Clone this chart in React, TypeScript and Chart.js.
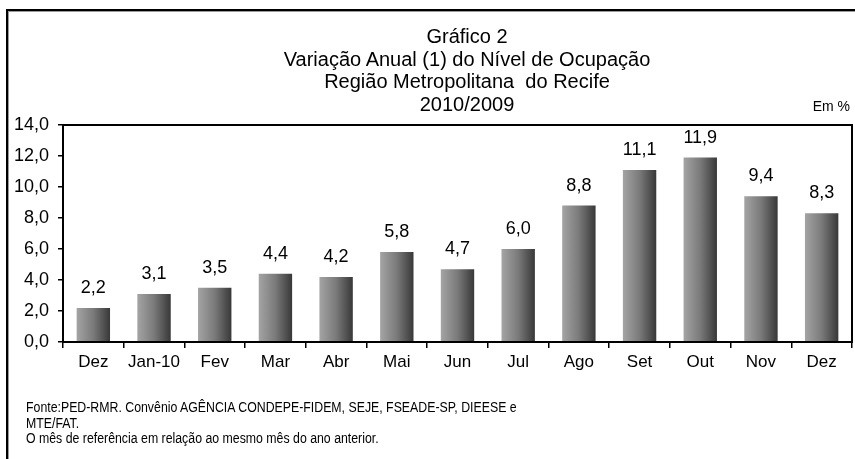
import React, { useEffect, useRef } from "react";
import { Chart, registerables } from "chart.js";

Chart.register(...registerables);

const categories = ["Dez", "Jan-10", "Fev", "Mar", "Abr", "Mai", "Jun", "Jul", "Ago", "Set", "Out", "Nov", "Dez"];
const values = [2.2, 3.1, 3.5, 4.4, 4.2, 5.8, 4.7, 6.0, 8.8, 11.1, 11.9, 9.4, 8.3];
const titleLines = [
  "Gráfico 2",
  "Variação Anual (1) do Nível de Ocupação",
  "Região Metropolitana  do Recife",
  "2010/2009",
];
const unitLabel = "Em %";
const footnotes = [
  "Fonte:PED-RMR. Convênio AGÊNCIA CONDEPE-FIDEM, SEJE, FSEADE-SP, DIEESE e",
  "MTE/FAT.",
  "O mês de referência em relação ao mesmo mês do ano anterior.",
];
const yMin = 0;
const yMax = 14;
const yStep = 2;

const FONT = "'Liberation Sans', Arial, sans-serif";
const fmt = (v: number) => v.toFixed(1).replace(".", ",");
const BAR_PCT = 0.55;

export default function App() {
  const ref = useRef<HTMLCanvasElement | null>(null);

  useEffect(() => {
    if (!ref.current) return;

    const framePlugin = {
      id: "frame",
      afterDraw(chart: any) {
        const { ctx, chartArea: a } = chart;
        ctx.save();
        ctx.strokeStyle = "#000";
        ctx.lineWidth = 2;
        ctx.strokeRect(a.left, a.top, a.right - a.left, a.bottom - a.top);
        ctx.restore();
      },
    };

    const labelPlugin = {
      id: "valueLabels",
      afterDatasetsDraw(chart: any) {
        const { ctx } = chart;
        const meta = chart.getDatasetMeta(0);
        ctx.save();
        ctx.fillStyle = "#000";
        ctx.font = `18px ${FONT}`;
        ctx.textAlign = "center";
        ctx.textBaseline = "alphabetic";
        meta.data.forEach((bar: any, i: number) => {
          ctx.fillText(fmt(values[i]), bar.x, bar.y - 15);
        });
        ctx.restore();
      },
    };

    const chart = new Chart(ref.current, {
      type: "bar",
      data: {
        labels: categories,
        datasets: [
          {
            data: values,
            barPercentage: BAR_PCT,
            categoryPercentage: 1,
            borderWidth: 0,
            backgroundColor: (c: any) => {
              const ch = c.chart;
              const area = ch.chartArea;
              if (!area || c.dataIndex === undefined) return "#777";
              const xs = ch.scales.x;
              const cx = xs.getPixelForValue(c.dataIndex);
              const w = ((area.right - area.left) / categories.length) * BAR_PCT;
              const g = ch.ctx.createLinearGradient(cx - w / 2, 0, cx + w / 2, 0);
              g.addColorStop(0, "#a4a4a4");
              g.addColorStop(0.5, "#7a7a7a");
              g.addColorStop(1, "#383838");
              return g;
            },
          },
        ],
      },
      options: {
        responsive: false,
        animation: false,
        layout: { padding: { top: 125, right: 3, left: 0, bottom: 0 } },
        plugins: {
          legend: { display: false },
          title: { display: false },
          tooltip: { enabled: false },
        },
        scales: {
          x: {
            offset: true,
            border: { display: false },
            grid: {
              offset: true,
              drawOnChartArea: false,
              drawTicks: true,
              tickLength: 6,
              color: "#000",
              lineWidth: 1.5,
            },
            ticks: {
              color: "#000",
              font: { family: FONT, size: 17 },
              padding: 4,
              maxRotation: 0,
              autoSkip: false,
            },
            afterFit(scale: any) {
              scale.height = 117;
            },
          },
          y: {
            min: yMin,
            max: yMax,
            border: { display: false },
            grid: {
              drawOnChartArea: false,
              drawTicks: true,
              tickLength: 5,
              color: "#000",
              lineWidth: 1.5,
            },
            ticks: {
              stepSize: yStep,
              color: "#000",
              font: { family: FONT, size: 18 },
              padding: 9,
              callback: (v: any) => fmt(Number(v)),
            },
            afterFit(scale: any) {
              scale.width = 63;
            },
          },
        },
      },
      plugins: [framePlugin, labelPlugin],
    });
    return () => chart.destroy();
  }, []);

  return (
    <div style={{ position: "absolute", left: 0, top: 0, width: 855, height: 459, background: "#fff", overflow: "hidden", fontFamily: FONT }}>
      <div
        style={{
          position: "absolute",
          left: 6,
          top: 9,
          width: 860,
          height: 460,
          borderLeft: "2px solid #000",
          borderTop: "2px solid #000",
          boxShadow: "inset 1px 1px 0 #9a9a9a",
        }}
      />
      <canvas ref={ref} width={855} height={459} style={{ position: "absolute", left: 0, top: 0, width: 855, height: 459 }} />
      <div
        style={{
          position: "absolute",
          left: 217,
          top: 25,
          width: 500,
          textAlign: "center",
          fontSize: 20,
          lineHeight: "22.5px",
          color: "#000",
          whiteSpace: "pre",
        }}
      >
        {titleLines.map((t, i) => (
          <div key={i}>{t}</div>
        ))}
      </div>
      <div style={{ position: "absolute", right: 5, top: 98, fontSize: 14, color: "#000" }}>{unitLabel}</div>
      <div
        style={{
          position: "absolute",
          left: 26,
          top: 400,
          fontSize: 14,
          lineHeight: "15.5px",
          color: "#000",
          whiteSpace: "pre",
          transform: "scaleX(0.88)",
          transformOrigin: "left top",
        }}
      >
        {footnotes.map((t, i) => (
          <div key={i}>{t}</div>
        ))}
      </div>
    </div>
  );
}
